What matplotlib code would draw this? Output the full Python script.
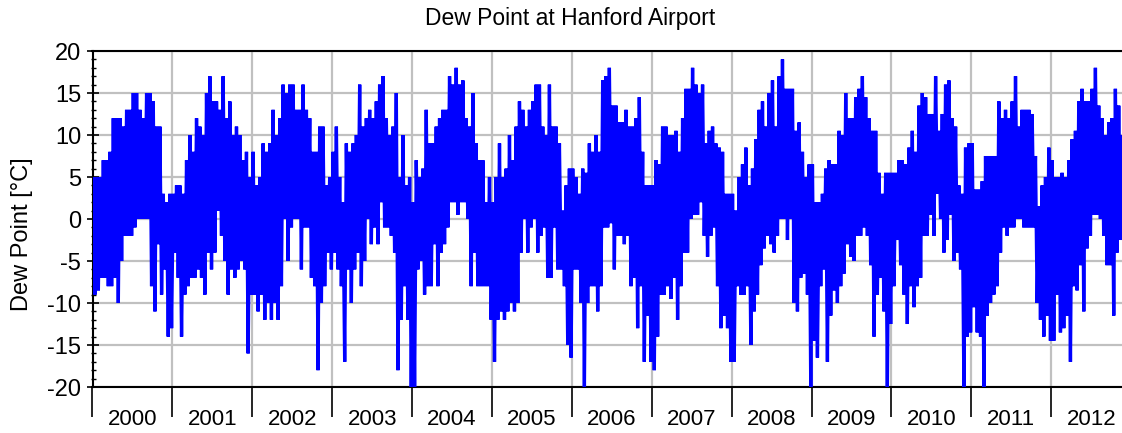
import matplotlib
matplotlib.use("Agg")
import matplotlib.pyplot as plt
from matplotlib.ticker import MultipleLocator, FixedLocator, NullFormatter, FuncFormatter

plt.rcParams['font.family'] = ['Liberation Sans', 'DejaVu Sans']
plt.rcParams['axes.unicode_minus'] = False

years = [2000, 2001, 2002, 2003, 2004, 2005, 2006, 2007, 2008, 2009, 2010, 2011, 2012]

# Half-monthly maximum / minimum dew point (°C), 24 periods per year
hi_2000 = [5, 5, 5, 7, 7, 8, 12, 12, 12, 11, 13, 13, 15, 15, 13, 12, 15, 15, 14, 11, 11, 3, 2, 3]
lo_2000 = [-9, -8.5, -7, -7, -8, -8, -7, -10, -5, -2, -2, -2, -1, 0, 0, 0, 0, -8, -11, -3, -9, -6, -14, -13]
hi_2001 = [3, 4, 4, 3, 7, 10, 8, 12, 11, 10, 15, 17, 14, 14, 13, 17, 12, 14, 10, 11, 10, 7, 8, 5]
lo_2001 = [-4, -7, -14, -9, -8, -7, -7, -6, -7, -9, -4, -6, -4, 1, -2, -5, -9, -6, -7, -6, -5, -6, -16, -9]
hi_2002 = [8, 4, 5, 9, 8, 9, 13, 10, 12, 16, 15, 16, 16, 13, 13, 16, 13, 12, 8, 8, 11, 11, 4, 5]
lo_2002 = [-9, -11, -9, -12, -10, -12, -10, -12, -8, 0, -5, -1, 0, 0, -6, -1, -1, -7, -8, -18, -10, -8, -4, -6]
hi_2003 = [8, 11, 5, 2, 9, 8, 9, 10, 16, 11, 12, 13, 12, 14, 16, 17, 12, 10, 11, 15, 5, 10, 4, 5]
lo_2003 = [-4, -6, -8, -17, -6, -10, -6, -4, -8, -5, 0, -3, -1, -3, 2, -1, -1, -2, -4, -18, -12, -8, -12, -20]
hi_2004 = [2, 7, 5, 6, 13, 9, 9, 11, 12, 13, 13, 17, 16, 18, 16, 16.5, 12, 11, 15, 9, 7, 7, 2, 5]
lo_2004 = [-20, -6, -5, -9, -8, -8, -3, -8, -4, -3, -1, 2, 2, 0.5, 2, 2, 0, -8, -4, -8, -8, -8, -8, -12]
hi_2005 = [2, 5, 9, 5, 6, 10, 7, 11, 14, 13, 11, 13, 14, 16, 16, 11, 10, 16, 11, 11, 9, 1, 4, 6]
lo_2005 = [-17, -12, -11, -12, -11, -10, -11, -10, -4, 0, -4, -1, 0, -4, -2, -1, -7, -7, -1, -6, -6, -8, -15, -16.5]
hi_2006 = [6, 5, 3, 6, 5.5, 9, 8, 10, 8, 16.5, 17, 18, 13.5, 13.5, 11.5, 11.5, 13, 11, 11, 12, 14.5, 8, 4, 4]
lo_2006 = [-6, -6, -10, -20, -10, -8, -8, -11, -8, -1, -1, -0.5, -6, -2, -2, -3, -2, -8, -7, -13, -8, -17, -11.5, -17]
hi_2007 = [4, 7, 6.5, 11, 11, 10, 10, 10.5, 8, 12, 15.5, 15.5, 18, 16, 15, 16, 9, 10.5, 11, 9, 8.5, 8, 3, 3]
lo_2007 = [-18, -14, -9, -9, -8, -9.5, -7, -12, -8, -4, -4, 0, 0.5, 0.5, 2, -2, -4.5, -2, -1, -8, -13, -11.5, -13, -17]
hi_2008 = [3, 1, 5, 6.5, 8.5, 4, 6, 9.5, 13, 14, 11, 15, 16.5, 11, 17, 19, 15.5, 15.5, 15.5, 10.5, 11.5, 8, 5, 6.5]
lo_2008 = [-17, -8, -9, -9, -8, -15, -11, -9, -5.5, -3.5, -2, -3, -4, -2, 0, 0, -2.5, 0, -10, -11, -7, -6.5, -9, -20]
hi_2009 = [6.5, 2, 2, 3, 6, 7, 6.5, 6.5, 10.5, 10, 15, 12, 12, 14.5, 15.5, 17, 14.5, 12, 10.5, 10.5, 5.5, 3, 5.5, 5.5]
lo_2009 = [-14.5, -16.5, -8, -6, -17, -11.5, -8.5, -10, -8, -6.5, -3, -4.5, -5, -2, -2, -1, -2, -5.5, -14, -9, -7, -11, -20, -12.5]
hi_2010 = [5.5, 5.5, 7, 7, 6.5, 8.5, 10.5, 8, 13.5, 15, 14.5, 12.5, 12.5, 17, 10.5, 12.5, 16, 16.5, 12, 11, 4, 3, 8.5, 9]
lo_2010 = [-8, -2.5, -5.5, -9, -12.5, -8, -10.5, -8, -7, -2, -2, 0.5, -2, 3, 0, -4, -2.5, 0.5, -5, -4, -6, -20, -14, -13.5]
hi_2011 = [9, 3.5, 3.5, 4.5, 7.5, 7.5, 7.5, 7.5, 14, 12, 13, 12, 14, 17, 11, 13, 13, 13, 12.5, 7.5, 1.5, 4, 5, 8.5]
lo_2011 = [-10.5, -13.5, -14, -20, -11.5, -10, -9, -8, -4, -1, -2, -1, -1, 0, 0, -1, -1, -1, -1, -10, -12, -14, -11.5, -14.5]
hi_2012 = [7, 5, 5, 5.5, 5, 7, 9.5, 10.5, 14, 15.5, 14, 14, 15.5, 18, 13.5, 12, 10, 11.5, 12, 15.5, 13.5, 10, 9, 6]
lo_2012 = [-14.5, -9, -13.5, -13, -11.5, -17, -8, -8.5, -5.5, -11, -3.5, -2, 0.5, 0.5, 0, -2, -5.5, -5.5, -11.5, -4, -2.5, -5.5, -6, -7]

highs = [hi_2000, hi_2001, hi_2002, hi_2003, hi_2004, hi_2005, hi_2006,
         hi_2007, hi_2008, hi_2009, hi_2010, hi_2011, hi_2012]
lows = [lo_2000, lo_2001, lo_2002, lo_2003, lo_2004, lo_2005, lo_2006,
        lo_2007, lo_2008, lo_2009, lo_2010, lo_2011, lo_2012]

# Interleave each period's maximum and minimum into one time series
t, dew = [], []
for yr, hi, lo in zip(years, highs, lows):
    n = len(hi)
    for i in range(n):
        t.append(yr + (i + 0.25) / n)
        dew.append(hi[i])
        t.append(yr + (i + 0.75) / n)
        dew.append(lo[i])

W, H = 1122, 433
fig = plt.figure(figsize=(W / 100, H / 100), dpi=100)
ax = fig.add_axes([92.5 / W, 46 / H, (1131.2 - 92.5) / W, 336 / H])

ax.plot(t, dew, color='#0000ff', lw=2.4, zorder=3,
        solid_joinstyle='miter', solid_capstyle='butt')

ax.set_xlim(2000, 2013)
ax.set_ylim(-20, 20)

ax.yaxis.set_major_locator(MultipleLocator(5))
ax.yaxis.set_minor_locator(MultipleLocator(1))
ax.xaxis.set_major_locator(FixedLocator(years + [2013]))
ax.xaxis.set_minor_locator(FixedLocator([y + 0.5 for y in years]))
ax.xaxis.set_major_formatter(NullFormatter())
ax.xaxis.set_minor_formatter(FuncFormatter(lambda x, pos: str(int(x))))

ax.set_axisbelow(True)
ax.grid(True, which='major', color='#c0c0c0', lw=1.6)

for s in ax.spines.values():
    s.set_linewidth(1.5)
    s.set_color('black')

ax.tick_params(axis='x', which='major', direction='out', length=21.5, width=1.2)
ax.tick_params(axis='x', which='minor', length=0, labelsize=16, pad=15.5)
ax.tick_params(axis='y', which='major', direction='inout', length=8.5, width=1.2,
               labelsize=17, pad=4)
ax.tick_params(axis='y', which='minor', direction='inout', length=3.6, width=1.0)

fig.text(570 / W, 1 - 18 / H, 'Dew Point at Hanford Airport', ha='center',
         va='center', fontsize=16.5)
fig.text(22 / W, 1 - 234 / H, 'Dew Point [°C]', ha='center', va='center',
         rotation=90, fontsize=17)

fig.savefig('out.png', dpi=100)
